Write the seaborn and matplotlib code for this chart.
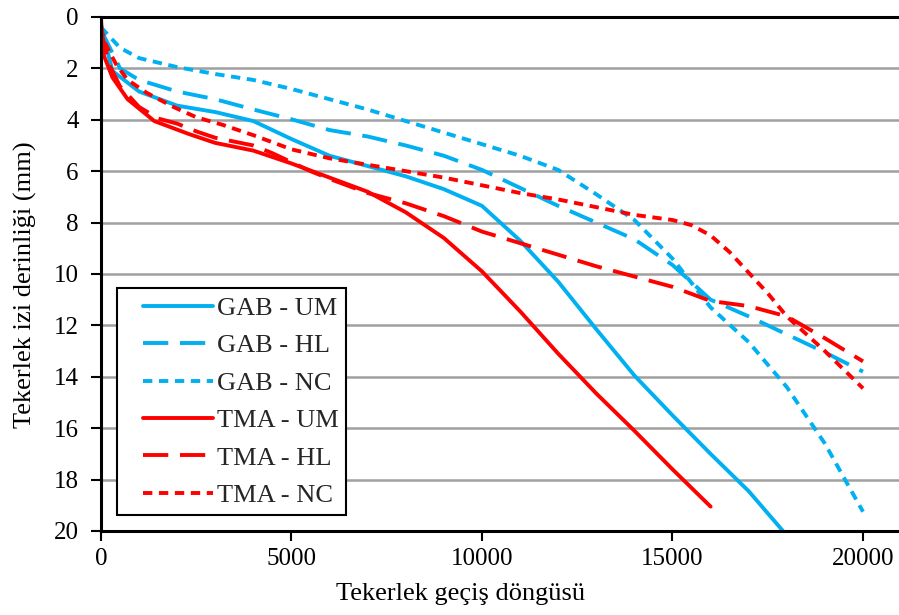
import matplotlib
matplotlib.use("Agg")
import matplotlib.pyplot as plt
from matplotlib.legend_handler import HandlerLine2D
import seaborn as sns
import pandas as pd

# Rut depth (mm) versus wheel passes for each mix / specimen type
gab_um_x = [0, 300, 1000, 2000, 3000, 4000, 5000, 6000, 7000, 8000, 9000, 10000,
            11000, 12000, 13000, 14000, 15000, 16000, 17000, 17900]
gab_um_y = [0.3, 2.1, 2.9, 3.45, 3.7, 4.05, 4.75, 5.4, 5.8, 6.2, 6.7, 7.35,
            8.7, 10.3, 12.15, 13.95, 15.5, 17.0, 18.45, 20.0]

gab_hl_x = [0, 500, 1000, 2000, 3000, 4000, 5000, 6000, 7000, 8000, 9000, 10000,
            11000, 12000, 13000, 14000, 15000, 16000, 17000, 18000, 19000, 20000]
gab_hl_y = [0.5, 2.0, 2.45, 2.9, 3.2, 3.6, 3.98, 4.4, 4.65, 5.0, 5.4, 5.95,
            6.65, 7.35, 8.0, 8.65, 9.65, 11.0, 11.65, 12.35, 13.05, 13.8]

gab_nc_x = [0, 500, 1000, 2000, 3000, 4000, 5000, 6000, 7000, 8000, 9000, 10000,
            11000, 12000, 13000, 14000, 15000, 16000, 17000, 18000, 19000, 20000]
gab_nc_y = [0.4, 1.2, 1.6, 1.95, 2.22, 2.45, 2.8, 3.2, 3.6, 4.05, 4.5, 4.95,
            5.4, 5.95, 6.9, 7.9, 9.4, 11.3, 12.65, 14.4, 16.6, 19.25]

tma_um_x = [0, 50, 300, 700, 1400, 2300, 3000, 4000, 5000, 6000, 7000, 8000,
            9000, 10000, 11000, 12000, 13000, 14000, 15000, 16000]
tma_um_y = [0.0, 1.4, 2.35, 3.2, 4.05, 4.55, 4.9, 5.2, 5.7, 6.25, 6.8, 7.6,
            8.6, 9.9, 11.45, 13.1, 14.65, 16.1, 17.6, 19.05]

tma_hl_x = [0, 200, 500, 1000, 1500, 2000, 2500, 3000, 3500, 4000, 4500, 5000,
            5500, 6000, 7000, 8000, 9000, 10000, 11000, 12000, 13000, 14000,
            15000, 16000, 17000, 18000, 19000, 20000]
tma_hl_y = [0.5, 1.8, 2.7, 3.5, 3.95, 4.15, 4.45, 4.7, 4.85, 5.0, 5.3, 5.65,
            6.0, 6.3, 6.85, 7.25, 7.75, 8.35, 8.8, 9.25, 9.7, 10.1,
            10.5, 11.05, 11.25, 11.65, 12.5, 13.4]

tma_nc_x = [0, 100, 400, 700, 1200, 1900, 2500, 3200, 4000, 5000, 6000, 7000,
            8000, 9000, 10000, 11000, 12000, 13000, 14000, 15000, 15500, 16000,
            16500, 17000, 17500, 18000, 19000, 20000]
tma_nc_y = [0.4, 1.0, 1.85, 2.45, 2.95, 3.5, 3.9, 4.2, 4.6, 5.15, 5.5, 5.75,
            6.0, 6.25, 6.55, 6.85, 7.1, 7.4, 7.7, 7.9, 8.1, 8.5,
            9.15, 9.95, 10.75, 11.65, 13.0, 14.45]

labels = ["GAB - UM", "GAB - HL", "GAB - NC", "TMA - UM", "TMA - HL", "TMA - NC"]
xs = [gab_um_x, gab_hl_x, gab_nc_x, tma_um_x, tma_hl_x, tma_nc_x]
ys = [gab_um_y, gab_hl_y, gab_nc_y, tma_um_y, tma_hl_y, tma_nc_y]

x_ticks = [0, 5000, 10000, 15000, 20000]
y_ticks = [0, 2, 4, 6, 8, 10, 12, 14, 16, 18, 20]

sns.set_theme(style="white")
plt.rcParams["font.family"] = ["Liberation Serif", "DejaVu Serif"]

CYAN = "#00B0F0"
RED = "#FF0000"
colors = [CYAN, CYAN, CYAN, RED, RED, RED]
solid = "-"
long_dash = (0, (6.5, 3.0))
short_dash = (0, (2.4, 1.7))
styles = [solid, long_dash, short_dash, solid, long_dash, short_dash]

fig = plt.figure(figsize=(8.99, 6.15), dpi=100)
ax = fig.add_axes([0.1123, 0.1366, 0.8877, 0.8358])

for lab, x, y, c, ls in zip(labels, xs, ys, colors, styles):
    df = pd.DataFrame({"x": x, "y": y})
    sns.lineplot(data=df, x="x", y="y", ax=ax, color=c, linestyle=ls,
                 linewidth=2.8, label=lab, sort=False, estimator=None,
                 dash_capstyle="butt", solid_capstyle="round")

ax.set_xlim(0, 20945)
ax.set_ylim(20, 0)
ax.set_xticks(x_ticks)
ax.set_yticks(y_ticks)
ax.set_xticklabels([str(v) for v in x_ticks])
ax.set_yticklabels([str(v) for v in y_ticks])

ax.yaxis.grid(True, color="#A0A0A0", linewidth=1.8)
ax.xaxis.grid(False)
ax.set_axisbelow(True)

for side in ["left", "bottom", "top"]:
    ax.spines[side].set_visible(True)
    ax.spines[side].set_color("black")
    ax.spines[side].set_linewidth(2.2)
ax.spines["right"].set_visible(False)

ax.tick_params(axis="both", which="major", labelsize=18, colors="black",
               direction="out", length=7, width=1.5)
ax.tick_params(axis="x", bottom=True, top=False, pad=5)
ax.tick_params(axis="y", left=True, right=False, pad=9)

ax.set_xlabel("Tekerlek geçiş döngüsü", fontsize=19, color="black")
ax.set_ylabel("Tekerlek izi derinliği (mm)", fontsize=19, color="black")
ax.xaxis.set_label_coords(0.45, -0.101)
ax.yaxis.set_label_coords(-0.080, 0.479)

handles, labs = ax.get_legend_handles_labels()
leg = ax.legend(handles, labs, loc="lower left", bbox_to_anchor=(0.02, 0.031),
                fontsize=19, frameon=True, fancybox=False, edgecolor="black",
                handlelength=3.33, handletextpad=0.15, labelspacing=0.53,
                borderpad=0.3, borderaxespad=0.0,
                handler_map={h: HandlerLine2D(xpad=0.68) for h in handles})
leg.get_frame().set_linewidth(1.5)
leg.get_frame().set_alpha(1.0)

fig.savefig("out.png", dpi=100)
